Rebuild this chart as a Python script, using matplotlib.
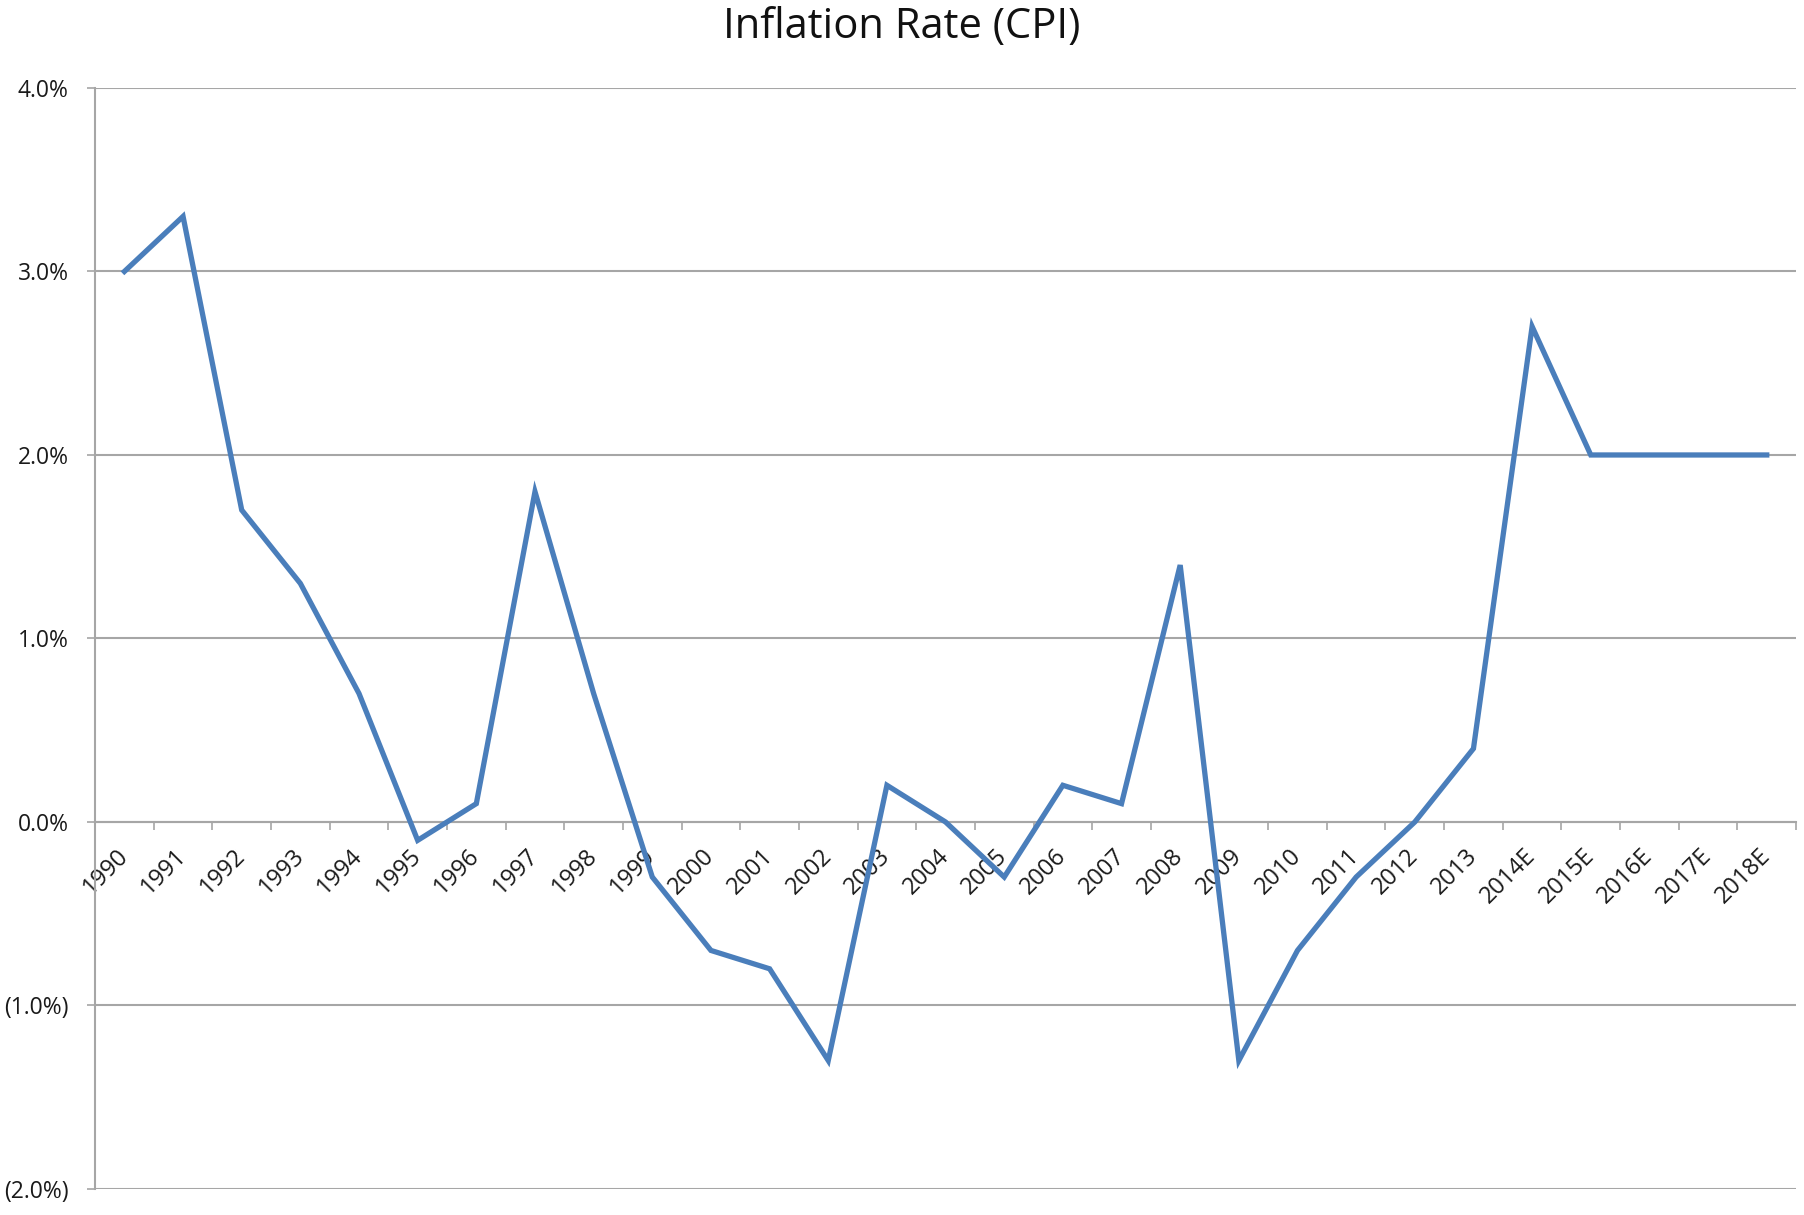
import matplotlib.pyplot as plt
from matplotlib.ticker import FuncFormatter, FixedLocator

years = ['1990', '1991', '1992', '1993', '1994', '1995', '1996', '1997', '1998', '1999',
         '2000', '2001', '2002', '2003', '2004', '2005', '2006', '2007', '2008', '2009',
         '2010', '2011', '2012', '2013', '2014E', '2015E', '2016E', '2017E', '2018E']
inflation = [3.0, 3.3, 1.7, 1.3, 0.7, -0.1, 0.1, 1.8, 0.7, -0.3,
             -0.7, -0.8, -1.3, 0.2, 0.0, -0.3, 0.2, 0.1, 1.4, -1.3,
             -0.7, -0.3, 0.0, 0.4, 2.7, 2.0, 2.0, 2.0, 2.0]
y_ticks = [-2, -1, 0, 1, 2, 3, 4]

plt.rcParams['font.family'] = ['Open Sans', 'DejaVu Sans']

fig = plt.figure(figsize=(18.04, 12.15), dpi=100)
ax = fig.add_axes([0.0527, 0.0214, 0.9429, 0.9062])

x = list(range(len(years)))
ax.plot(x, inflation, color='#4A7EBB', lw=3.8, solid_joinstyle='miter', zorder=3)

ax.set_xlim(-0.5, len(years) - 0.5)
ax.set_ylim(-2, 4)

# y axis
ax.set_yticks(y_ticks)
ax.yaxis.set_major_formatter(FuncFormatter(
    lambda v, _: f'({abs(v):.1f}%)' if v < 0 else f'{v:.1f}%'))
ax.grid(axis='y', color='#A6A6A6', lw=1.5, zorder=1)
ax.tick_params(axis='y', length=6, width=1.2, color='#A6A6A6', pad=13,
               labelsize=16.5, labelcolor='#1A1A1A')

# x axis sitting at zero, ticks between categories
ax.spines['bottom'].set_position(('data', 0))
ax.spines['bottom'].set_color('#A6A6A6')
ax.spines['bottom'].set_linewidth(1.5)
ax.spines['left'].set_color('#A6A6A6')
ax.spines['left'].set_linewidth(1.5)
ax.spines['top'].set_visible(False)
ax.spines['right'].set_visible(False)

ax.set_xticks(x)
ax.set_xticklabels(years, rotation=45, ha='right', va='center', rotation_mode='anchor')
ax.xaxis.set_minor_locator(FixedLocator([i - 0.5 for i in range(len(years) + 1)]))
ax.tick_params(axis='x', which='major', length=0, pad=22, labelsize=17, labelcolor='#1A1A1A')
ax.tick_params(axis='x', which='minor', length=6, width=1.2, color='#A6A6A6')

fig.suptitle('Inflation Rate (CPI)', fontsize=30, y=0.995, va='top', color='#111111')

fig.savefig('out.png', dpi=100, facecolor='white')
